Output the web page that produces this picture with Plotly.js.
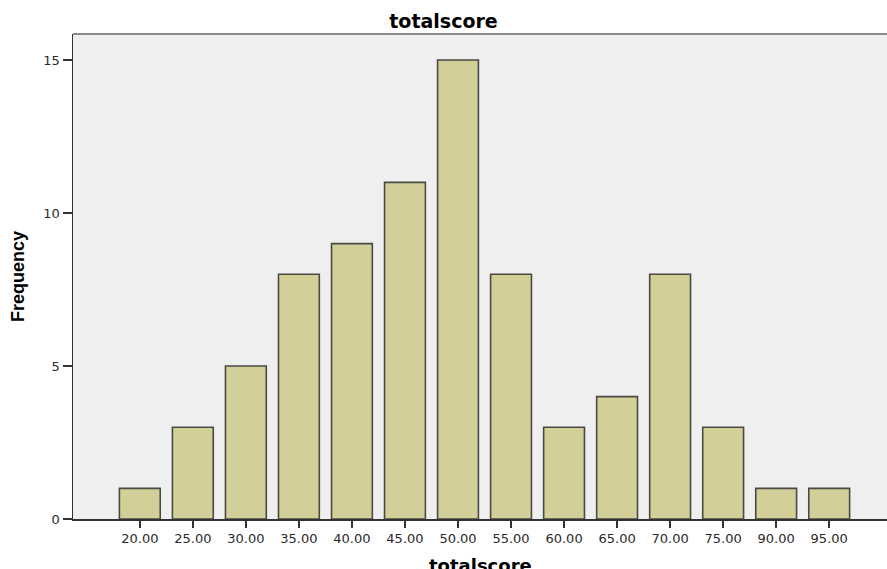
<!DOCTYPE html>
<html><head><meta charset="utf-8">
<script src="https://cdn.plot.ly/plotly-3.0.1.min.js"></script>
<style>html,body{margin:0;padding:0;background:#fff}#chart{width:887px;height:569px}</style>
</head><body><div id="chart"></div>
<script>
const categories = ["20.00","25.00","30.00","35.00","40.00","45.00","50.00","55.00","60.00","65.00","70.00","75.00","90.00","95.00"];
const frequency = [1,3,5,8,9,11,15,8,3,4,8,3,1,1];
const yTicks = [0,5,10,15];
const xTitle = 'totalscore';

const trace = {
  type: 'bar', x: categories, y: frequency, width: 0.77,
  marker: {color: '#d3cf98', line: {color: '#4a4a44', width: 1.6}},
  hoverinfo: 'skip'
};
const layout = {
  width: 887, height: 569,
  margin: {l: 73, r: 0, t: 34, b: 50},
  paper_bgcolor: '#ffffff', plot_bgcolor: '#efefef',
  showlegend: false, bargap: 0.23,
  title: {text: '<b>totalscore</b>', x: 0.5, xanchor: 'center', y: 0.963, yanchor: 'middle',
          font: {family: 'DejaVu Sans, sans-serif', size: 19, color: '#000'}},
  xaxis: {type: 'category', range: [-1.26, 14.09], showgrid: false, zeroline: false,
          showline: true, linecolor: '#333', linewidth: 1.5,
          ticks: 'outside', ticklen: 7, tickwidth: 1.5, tickcolor: '#333',
          tickfont: {family: 'DejaVu Sans, sans-serif', size: 13, color: '#2a2a2a'}},
  yaxis: {range: [0, 15.85], tickvals: yTicks, ticktext: yTicks.map(String), showgrid: false, zeroline: false,
          showline: true, linecolor: '#333', linewidth: 1.5,
          ticks: 'outside', ticklen: 9, tickwidth: 1.5, tickcolor: '#333',
          tickfont: {family: 'DejaVu Sans, sans-serif', size: 13, color: '#2a2a2a'},
          title: {text: '<b>Frequency</b>', standoff: 14, font: {family: 'Liberation Sans, Arial, sans-serif', size: 18, color: '#000'}}},
  annotations: [{text: '<b>' + xTitle + '</b>', xref: 'paper', yref: 'paper', x: 0.5, y: 0,
                 xanchor: 'center', yanchor: 'top', yshift: -34, showarrow: false,
                 font: {family: 'DejaVu Sans, sans-serif', size: 18, color: '#000'}}],
  shapes: [{type: 'line', xref: 'paper', yref: 'paper', x0: 0, x1: 1, y0: 1, y1: 1,
            line: {color: '#8a8a8a', width: 2}}]
};
Plotly.newPlot('chart', [trace], layout, {displayModeBar: false, staticPlot: true});
</script></body></html>
